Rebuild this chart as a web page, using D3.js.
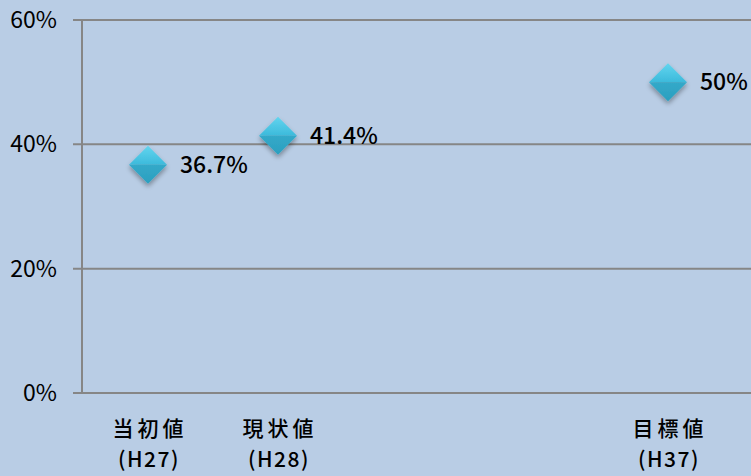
<!DOCTYPE html>
<html>
<head>
<meta charset="utf-8">
<script src="https://cdn.jsdelivr.net/npm/d3@7"></script>
<style>
body{margin:0;background:#b9cde5;}
svg{display:block;}
text{font-family:"Noto Sans CJK JP","Noto Sans",sans-serif;fill:#000;}
</style>
</head>
<body>
<div id="chart"></div>
<script>
const categories=["当初値","現状値","","","目標値"];
const years=["(H27)","(H28)","","","(H37)"];
const values=[36.7,41.4,null,null,50];
const yTicks=[0,20,40,60];

const opt={width:751,height:476,left:82,right:733,top:20,bottom:393}

const x=d3.scaleBand()
  .domain(categories.map((d,i)=>i))
  .range([opt.left+1,opt.right])

const y=d3.scaleLinear()
  .domain([0,60])
  .range([opt.bottom,opt.top])

const svg=d3.select("#chart")
  .append("svg")
  .attr("width",opt.width)
  .attr("height",opt.height)

svg.append("rect")
  .attr("width",opt.width)
  .attr("height",opt.height)
  .attr("fill","#b9cde5")

const defs=svg.append("defs")
const gTop=defs.append("linearGradient").attr("id","gTop").attr("x1",0).attr("y1",0).attr("x2",0).attr("y2",1)
gTop.append("stop").attr("offset","0%").attr("stop-color","#62d5ef")
gTop.append("stop").attr("offset","100%").attr("stop-color","#3cbadb")
const gBot=defs.append("linearGradient").attr("id","gBot").attr("x1",0).attr("y1",0).attr("x2",0).attr("y2",1)
gBot.append("stop").attr("offset","0%").attr("stop-color","#34a9c9")
gBot.append("stop").attr("offset","100%").attr("stop-color","#2b9fbf")
const sh=defs.append("filter").attr("id","shadow").attr("x","-50%").attr("y","-50%").attr("width","200%").attr("height","200%")
sh.append("feGaussianBlur").attr("in","SourceAlpha").attr("stdDeviation",2.5)
sh.append("feOffset").attr("dx",0).attr("dy",3).attr("result","b")
sh.append("feComponentTransfer").append("feFuncA").attr("type","linear").attr("slope",0.35)
const mg=sh.append("feMerge")
mg.append("feMergeNode")
mg.append("feMergeNode").attr("in","SourceGraphic")

// gridlines
svg.append("g").selectAll("line")
  .data(yTicks)
  .enter()
  .append("line")
  .attr("x1",opt.left-9)
  .attr("x2",opt.width)
  .attr("y1",d=>y(d))
  .attr("y2",d=>y(d))
  .attr("stroke","#868686")
  .attr("stroke-width",2)

// y axis line
svg.append("line")
  .attr("x1",opt.left).attr("x2",opt.left)
  .attr("y1",y(60)).attr("y2",y(0))
  .attr("stroke","#868686")
  .attr("stroke-width",2)

// y tick labels
svg.append("g").selectAll("text")
  .data(yTicks)
  .enter()
  .append("text")
  .attr("x",57)
  .attr("y",d=>y(d)+8)
  .attr("text-anchor","end")
  .attr("font-size","23px")
  .text(d=>d+"%")

// category labels, two lines
const cats=categories.map((c,i)=>({c:c,yr:years[i],i:i})).filter(d=>d.c!="")
const cx=d=>x(d.i)+x.bandwidth()/2
svg.append("g").selectAll("text")
  .data(cats)
  .enter()
  .append("text")
  .attr("x",d=>cx(d)+2)
  .attr("y",436)
  .attr("text-anchor","middle")
  .attr("font-size","21px")
  .attr("font-weight","500")
  .attr("letter-spacing","4px")
  .text(d=>d.c)
svg.append("g").selectAll("text")
  .data(cats)
  .enter()
  .append("text")
  .attr("x",d=>cx(d)+1)
  .attr("y",467)
  .attr("text-anchor","middle")
  .attr("font-size","21px")
  .attr("font-weight","500")
  .attr("letter-spacing","1.5px")
  .text(d=>d.yr)

// markers
const pts=values.map((v,i)=>({v:v,i:i})).filter(d=>d.v!=null)
const r=19
const mk=svg.append("g").selectAll("g")
  .data(pts)
  .enter()
  .append("g")
  .attr("transform",d=>"translate("+cx(d)+","+y(d.v)+")")
  .attr("filter","url(#shadow)")
mk.append("path")
  .attr("d","M"+(-r)+",0L0,"+(-r)+"L"+r+",0Z")
  .attr("fill","url(#gTop)")
mk.append("path")
  .attr("d","M"+(-r)+",0L0,"+r+"L"+r+",0Z")
  .attr("fill","url(#gBot)")

svg.append("g").selectAll("text")
  .data(pts)
  .enter()
  .append("text")
  .attr("x",d=>cx(d)+32)
  .attr("y",d=>y(d.v)+8)
  .attr("font-size","23px")
  .attr("font-weight","500")
  .text(d=>d.v+"%")
</script>
</body>
</html>
